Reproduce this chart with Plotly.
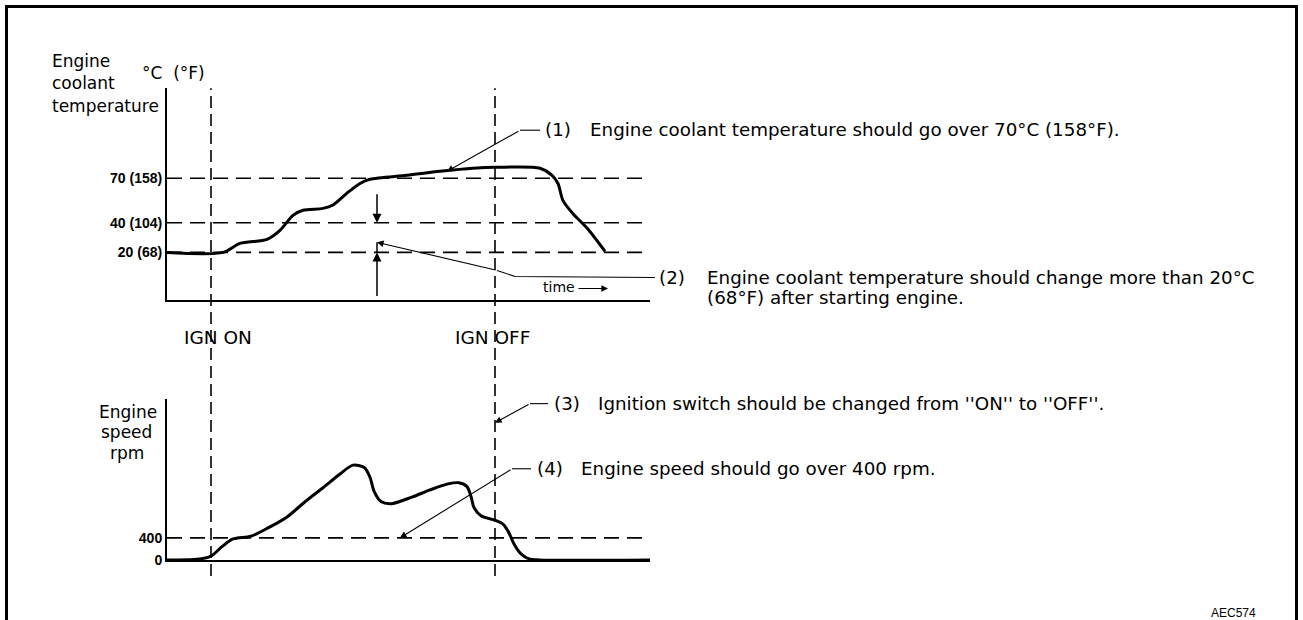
import plotly.graph_objects as go

W, H = 1303, 620
FIG_H = 629  # the page photo squeezes the page height slightly; give it a bit more room

# time axis (arbitrary units), ignition switch events
ign_on = 44
ign_off = 328

# engine coolant temperature (deg C) vs time
temp_t = [0, 56, 73, 100, 113, 126, 136, 156, 166, 180, 193, 203, 240, 273, 306, 330, 373, 385, 391, 396, 406, 420, 438]
temp_c = [20, 20, 26.1, 28.8, 34.9, 45, 48.4, 49.7, 52, 60, 66.5, 69.3, 72, 74.7, 76.8, 77.4, 76.8, 72, 66.5, 54.9, 46.1, 36.4, 20.7]
temp_levels = [20, 40, 70]
temp_labels = ["20 (68)", "40 (104)", "70 (158)"]

# engine speed (rpm) vs time
rpm_t = [0, 30, 44, 55, 66, 84, 102, 120, 138, 156, 173, 186, 197, 203, 207, 214, 224, 245, 263, 281, 292, 300,
         304, 307, 314, 328, 336, 342, 347, 354, 362, 372, 483]
rpm_v = [0, 10, 70, 240, 380, 430, 590, 780, 1055, 1310, 1560, 1720, 1680, 1500, 1250, 1060, 1020, 1140, 1270, 1380, 1400, 1330,
         1150, 950, 800, 720, 650, 490, 290, 110, 20, 0, 0]
rpm_levels = [0, 400]
rpm_labels = ["0", "400"]


def px(x):
    return x / W


def py(y):
    return 1 - y / H


TXT = dict(family="DejaVu Sans", size=17, color="black")
NOTE = dict(family="DejaVu Sans", size=18.3, color="black")
BOLD = dict(family="Liberation Sans", size=14, color="black")

fig = go.Figure()
fig.add_trace(go.Scatter(x=temp_t, y=temp_c, mode="lines", line=dict(color="black", width=3, shape="spline", smoothing=0.8),
                         xaxis="x", yaxis="y", showlegend=False, hoverinfo="skip"))
fig.add_trace(go.Scatter(x=rpm_t, y=rpm_v, mode="lines", line=dict(color="black", width=3, shape="spline", smoothing=0.8),
                         xaxis="x2", yaxis="y2", showlegend=False, hoverinfo="skip"))

ax_common = dict(showline=True, linecolor="black", linewidth=2, showgrid=False, zeroline=False, ticks="")
fig.update_layout(
    width=W, height=FIG_H, margin=dict(l=0, r=0, t=0, b=0),
    paper_bgcolor="white", plot_bgcolor="white",
    xaxis=dict(domain=[px(167), px(650)], range=[0, 483], anchor="y", showticklabels=False, **ax_common),
    yaxis=dict(domain=[py(300), py(88)], range=[-12.43, 130.81], anchor="x",
               tickvals=temp_levels, ticktext=["<b>%s</b>" % s for s in temp_labels],
               tickfont=BOLD, **ax_common),
    xaxis2=dict(domain=[px(167), px(650)], range=[0, 483], anchor="y2", showticklabels=False, **ax_common),
    yaxis2=dict(domain=[py(559), py(398)], range=[0, 2927], anchor="x2",
                tickvals=rpm_levels, ticktext=["<b>%s</b>" % s for s in rpm_labels],
                tickfont=BOLD, **ax_common),
)

shapes = []
# reference levels
for lv in temp_levels:
    shapes.append(dict(type="line", xref="x domain", yref="y", x0=0, x1=1, y0=lv, y1=lv,
                       line=dict(color="black", width=1.6, dash="15px,8px")))
shapes.append(dict(type="line", xref="x2 domain", yref="y2", x0=0, x1=1, y0=400, y1=400,
                   line=dict(color="black", width=1.6, dash="15px,8px")))
# ignition switch lines across both charts
for t in (ign_on, ign_off):
    shapes.append(dict(type="line", xref="x", yref="paper", x0=t, x1=t, y0=py(575), y1=py(88),
                       line=dict(color="black", width=1.6, dash="12px,6px")))
# outer frame (open at the bottom)
shapes.append(dict(type="path", xref="paper", yref="paper",
                   path="M %f %f L %f %f L %f %f L %f %f" % (px(6.5), py(620), px(6.5), py(6.5),
                                                          px(1296.5), py(6.5), px(1296.5), py(620)),
                   line=dict(color="black", width=3)))
# leader lines
thin = dict(color="black", width=1.1)
for (x0, y0, x1, y1) in [(520, 130, 540, 130), (530, 403, 548, 403), (512, 468, 531, 468)]:
    shapes.append(dict(type="line", xref="paper", yref="paper", x0=px(x0), y0=py(y0), x1=px(x1), y1=py(y1), line=thin))
shapes.append(dict(type="path", xref="paper", yref="paper",
                   path="M %f %f L %f %f L %f %f" % (px(497), py(270), px(515), py(276), px(655), py(277)), line=thin))
shapes.append(dict(type="line", xref="x", yref="y", x0=210, x1=210, y0=20, y1=26.8, line=dict(color="black", width=1.5)))
fig.update_layout(shapes=shapes)

ann = []


def label(x, y, text, font=TXT, xanchor="left"):
    ann.append(dict(xref="paper", yref="paper", x=px(x), y=py(y), text=text, showarrow=False,
                    xanchor=xanchor, yanchor="middle", font=font))


def arrow(x, y, ax, ay, xref="x", yref="y", width=1.1):
    ann.append(dict(xref=xref, yref=yref, x=x, y=y, ax=ax, ay=ay, text="", showarrow=True,
                    arrowhead=2, arrowsize=1.2, arrowwidth=width, arrowcolor="black"))


label(50, 61, "Engine")
label(50, 83, "coolant")
label(50, 106, "temperature")
label(140, 73, "°C  (°F)")
label(182, 337, "IGN ON", font=dict(family="DejaVu Sans", size=18.5, color="black"))
label(453, 337, "IGN OFF", font=dict(family="DejaVu Sans", size=18.5, color="black"))
label(541, 287, "time", font=dict(family="DejaVu Sans", size=14, color="black"))
label(97, 411, "Engine")
label(99, 431, "speed")
label(108, 452, "rpm")
label(1233, 612, "AEC574", font=dict(family="Liberation Sans", size=12, color="black"), xanchor="center")

label(543, 129, "(1)", NOTE)
label(588, 129, "Engine coolant temperature should go over 70°C (158°F).", NOTE)
label(657, 277, "(2)", NOTE)
label(705, 277, "Engine coolant temperature should change more than 20°C", NOTE)
label(705, 297, "(68°F) after starting engine.", NOTE)
label(552, 403, "(3)", NOTE)
label(596, 403, "Ignition switch should be changed from ''ON'' to ''OFF''.", NOTE)
label(535, 468, "(4)", NOTE)
label(579, 468, "Engine speed should go over 400 rpm.", NOTE)

arrow(280, 74.7, 73, -41)
arrow(210, 26.8, 120, 28)
arrow(210, 40, 0, -30, width=1.5)
arrow(210, 20, 0, 45, width=1.5)
arrow(ign_off, 2490, 35, -19, xref="x2", yref="y2")
arrow(233, 400, 112, -69, xref="x2", yref="y2")
arrow(px(608), py(288), -31, 0, xref="paper", yref="paper")

fig.update_layout(annotations=ann)

# pin the graph to the page corner, no page margins or scrollbars
page_js = ("var gd=document.getElementById('{plot_id}');"
           "gd.style.position='fixed';gd.style.top='0px';gd.style.left='0px';"
           "document.documentElement.style.margin='0';document.documentElement.style.overflow='hidden';"
           "document.body.style.margin='0';document.body.style.overflow='hidden';")
fig.write_html("out.html", config={"displayModeBar": False}, post_script=page_js)
